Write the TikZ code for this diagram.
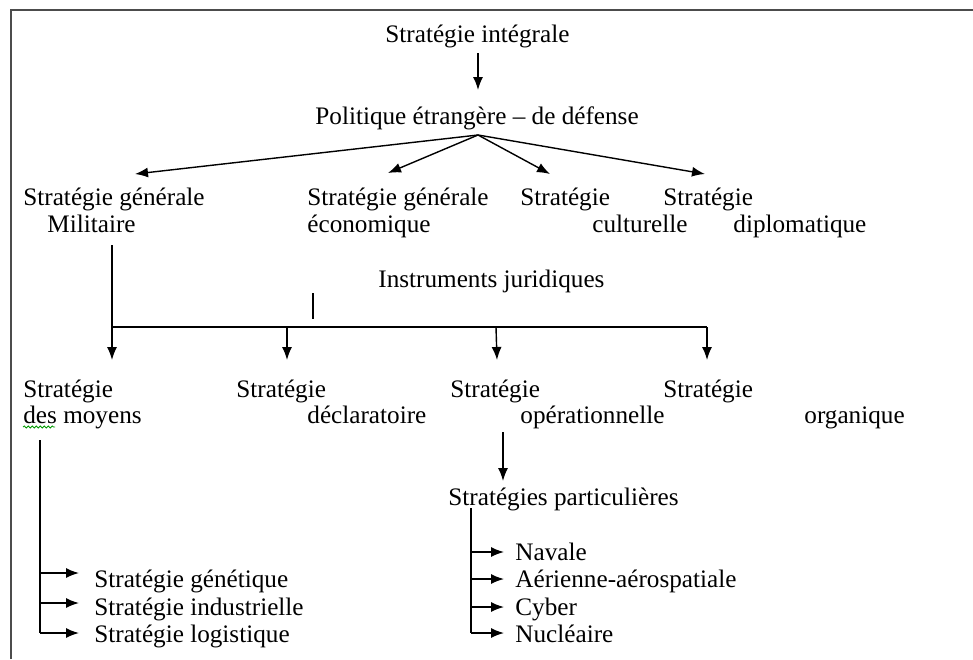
\documentclass[tikz,border=0pt]{standalone}
\usepackage{fontspec}
\setmainfont{Liberation Serif}
\usetikzlibrary{arrows.meta,decorations.pathmorphing,calc}
\tikzstyle{lbl}  =[inner sep=0pt, anchor=base west,
                   font=\fontsize{12.6}{14}\selectfont]
\tikzstyle{conn} =[line width=0.7pt, -{Latex[length=6.5pt,width=5pt]}]
\tikzstyle{plain}=[line width=0.7pt]
\tikzstyle{frame}=[line width=1pt, draw=black!70]

\begin{document}
\begin{tikzpicture}[x=0.5pt, y=-0.5pt]
            \useasboundingbox (0,0) rectangle (973,659);
            \draw[frame] (11,659) -- (11,10) -- (973,10);

            % top levels
            \node[lbl] (si) at (385,42) {Stratégie intégrale};
            \node[lbl] (pe) at (315,124) {Politique étrangère – de défense};
            \coordinate (t0) at (478,53);
            \coordinate (t1) at (478,90);
            \draw[conn] (t0) to (t1);

            \coordinate (fan) at (478,135);
            \coordinate (tmil) at (135,174);
            \coordinate (teco) at (388,173);
            \coordinate (tcul) at (550,174);
            \coordinate (tdip) at (705,174);
            \foreach \t in {tmil,teco,tcul,tdip}
                \draw[conn] (fan) to (\t);

            \node[lbl] (gm)  at (23,205)  {Stratégie générale};
            \node[lbl] (gm2) at (47,232)  {Militaire};
            \node[lbl] (ge)  at (307,205) {Stratégie générale};
            \node[lbl] (ge2) at (307,232) {économique};
            \node[lbl] (cu)  at (520,205) {Stratégie};
            \node[lbl] (cu2) at (592,232) {culturelle};
            \node[lbl] (di)  at (663,205) {Stratégie};
            \node[lbl] (di2) at (733,232) {diplomatique};

            % instruments
            \node[lbl] (ij) at (378,287) {Instruments juridiques};
            \draw[line width=1.3pt] (313,293) -- (313,319);

            \coordinate (m0) at (112,245);
            \coordinate (b0) at (112,327);
            \coordinate (b1) at (707,327);
            \draw[plain] (m0) -- (b0) -- (b1);
            \foreach \x in {112,287,707}
                \draw[conn] (\x,327) to (\x,360);
            \draw[conn] (496,327) to (497,360);

            \node[lbl] (mo)  at (23,397)  {Stratégie};
            \node[lbl] (mo2) at (23,423)  {des moyens};
            \node[lbl] (de)  at (236,397) {Stratégie};
            \node[lbl] (de2) at (307,423) {déclaratoire};
            \node[lbl] (op)  at (450,397) {Stratégie};
            \node[lbl] (op2) at (520,423) {opérationnelle};
            \node[lbl] (or)  at (663,397) {Stratégie};
            \node[lbl] (or2) at (804,423) {organique};
            \draw[green!60!black, line width=0.4pt, decorate,
                  decoration={snake, amplitude=0.5pt, segment length=2pt}]
                  (23,427) -- (55,427);

            % moyens
            \draw[plain] (40,440) -- (40,633);
            \foreach \y in {573,603,633}
                \draw[conn] (40,\y) to (79,\y);
            \node[lbl] (sg)  at (94,587) {Stratégie génétique};
            \node[lbl] (sin) at (94,615) {Stratégie industrielle};
            \node[lbl] (slo) at (94,642) {Stratégie logistique};

            % particulieres
            \draw[conn] (503,432) to (503,481);
            \node[lbl] (sp) at (448,505) {Stratégies particulières};
            \draw[plain] (471,508) -- (471,633);
            \foreach \y in {552,579,607,633}
                \draw[conn] (471,\y) to (504,\y);
            \node[lbl] (na) at (515,560) {Navale};
            \node[lbl] (ae) at (515,587) {Aérienne-aérospatiale};
            \node[lbl] (cy) at (515,615) {Cyber};
            \node[lbl] (nu) at (515,642) {Nucléaire};

        \end{tikzpicture}
\end{document}
